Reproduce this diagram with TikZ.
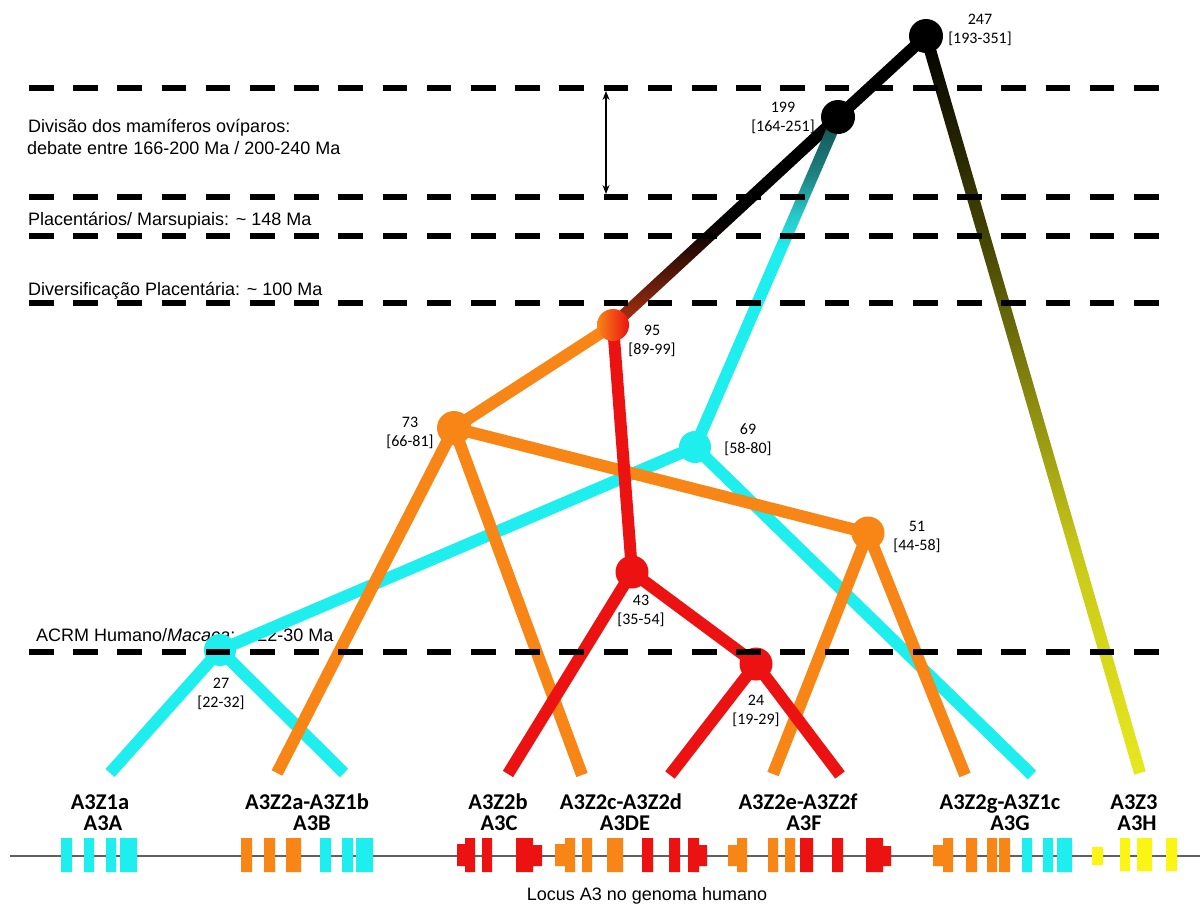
\documentclass[tikz,border=0pt]{standalone}
\usepackage{fontspec}
\setmainfont{Liberation Sans}
\newfontfamily\calfont{Carlito}
\usetikzlibrary{calc,arrows.meta}
\pgfdeclarelayer{bg}
\pgfdeclarelayer{fg}
\pgfsetlayers{bg,main,fg}

\definecolor{cy}{RGB}{30,238,238}
\definecolor{orA}{RGB}{247,134,22}
\definecolor{rdA}{RGB}{236,18,18}
\definecolor{ylA}{RGB}{250,245,20}
\definecolor{gln}{RGB}{95,95,95}
\definecolor{brA}{RGB}{190,60,15}
\definecolor{brB}{RGB}{160,45,15}
\definecolor{brC}{RGB}{120,35,12}
\definecolor{brD}{RGB}{45,12,4}
\definecolor{tlA}{RGB}{40,200,200}
\definecolor{tlB}{RGB}{30,130,130}
\definecolor{tlC}{RGB}{20,75,75}
\definecolor{olA}{RGB}{232,232,30}
\definecolor{olB}{RGB}{200,200,25}
\definecolor{olC}{RGB}{140,140,15}
\definecolor{olD}{RGB}{75,75,5}
\definecolor{olE}{RGB}{25,25,0}

\pgfdeclareverticalshading{shBrown}{100bp}{color(0bp)=(brA); color(25bp)=(brA); color(28bp)=(brB); color(33bp)=(brC); color(43bp)=(brD); color(50bp)=(black); color(100bp)=(black)}
\pgfdeclareverticalshading{shTeal}{100bp}{color(0bp)=(cy); color(55bp)=(cy); color(60bp)=(tlA); color(66bp)=(tlB); color(75bp)=(tlC); color(100bp)=(tlC)}
\pgfdeclareverticalshading{shOlive}{100bp}{color(0bp)=(olA); color(25bp)=(olA); color(40bp)=(olB); color(50bp)=(olC); color(60bp)=(olD); color(70bp)=(olE); color(75bp)=(black); color(100bp)=(black)}

\begin{document}
\begin{tikzpicture}[x=1pt,y=-1pt,
  br/.style={line width=12pt, line cap=butt},
  cyb/.style={br, draw=cy},
  orb/.style={br, draw=orA},
  rdb/.style={br, draw=rdA},
  tn/.style={circle, inner sep=0pt, minimum size=#1},
  dl/.style={line width=6.5pt, dash pattern=on 24.5pt off 19.7pt},
  nl/.style={font=\calfont\fontsize{16}{19}\selectfont, align=center, inner sep=0pt},
  gl/.style={font=\calfont\bfseries\fontsize{22.5}{22}\selectfont, anchor=base, inner sep=0pt},
  lt/.style={font=\fontsize{18}{22}\selectfont, anchor=base west, inner sep=0pt},
  gb/.style={}
]
\useasboundingbox (0,0) rectangle (1200,905);

% tree nodes
\node[tn=34pt, fill=black] (n247) at (926,36) {};
\node[tn=34pt, fill=black] (n199) at (838,117) {};
\node[tn=32pt, left color=orA, right color=rdA] (n95) at (613,325) {};
\node[tn=34pt, fill=orA] (n73) at (454,428) {};
\node[tn=32pt, fill=cy] (n69) at (695,447) {};
\node[tn=33pt, fill=orA] (n51) at (868,533) {};
\node[tn=33pt, fill=rdA] (n43) at (632,572) {};
\node[tn=33pt, fill=rdA] (n24) at (756,664) {};
\node[tn=32pt, fill=cy] (n27) at (220,650) {};

% leaf ends
\coordinate (l1) at (110,773);
\coordinate (l2) at (344,773);
\coordinate (l3) at (277,773);
\coordinate (l4) at (508,774);
\coordinate (l5) at (582,775);
\coordinate (l6) at (670,775);
\coordinate (l7) at (773,774);
\coordinate (l8) at (840,775);
\coordinate (l9) at (965,775);
\coordinate (l10) at (1032,775);
\coordinate (l11) at (1140,773);

\begin{pgfonlayer}{bg}
\fill[white] (0,0) rectangle (1200,905);
% era texts
\node[lt] (tx1) at (28,132.7) {Divisão dos mamíferos ovíparos:};
\node[lt] (tx2) at (27,154) {debate entre 166-200 Ma / 200-240 Ma};
\node[lt] (tx3) at (28,225) {Placentários/ Marsupiais: \textasciitilde{} 148 Ma};
\node[lt] (tx4) at (28,295) {Diversificação Placentária: \textasciitilde{} 100 Ma};
\node[lt] (tx5) at (36,641.7) {ACRM Humano/\textit{Macaca}: \textasciitilde{} 22-30 Ma};

% gradient branches
\shade[shading=shOlive] ($(n247.center)!6pt!90:(l11)$) -- ($(n247.center)!6pt!-90:(l11)$) -- ($(l11)!6pt!90:(n247.center)$) -- ($(l11)!6pt!-90:(n247.center)$) -- cycle;
\shade[shading=shBrown] ($(n199.center)!6pt!90:(n95.center)$) -- ($(n199.center)!6pt!-90:(n95.center)$) -- ($(n95.center)!6pt!90:(n199.center)$) -- ($(n95.center)!6pt!-90:(n199.center)$) -- cycle;
\shade[shading=shTeal] ($(n199.center)!6pt!90:(n69.center)$) -- ($(n199.center)!6pt!-90:(n69.center)$) -- ($(n69.center)!6pt!90:(n199.center)$) -- ($(n69.center)!6pt!-90:(n199.center)$) -- cycle;
\draw[br, draw=black] (n247.center) -- (n199.center);

% cyan branches
\draw[cyb] (n69.center) -- (n27.center);
\draw[cyb] (n69.center) -- (l10);
\draw[cyb] (n27.center) -- (l1);
\draw[cyb] (n27.center) -- (l2);
% orange branches
\draw[orb] (n95.center) -- (n73.center);
\draw[orb] (n73.center) -- (n51.center);
\draw[orb] (n73.center) -- (l3);
\draw[orb] (n73.center) -- (l5);
\draw[orb] (n51.center) -- (l7);
\draw[orb] (n51.center) -- (l9);
% red branches
\draw[rdb] (n95.center) -- (n43.center);
\draw[rdb] (n43.center) -- (l4);
\draw[rdb] (n43.center) -- (n24.center);
\draw[rdb] (n24.center) -- (l6);
\draw[rdb] (n24.center) -- (l8);
\end{pgfonlayer}

% node labels
\node[nl] (t247) at (980,29.5) {247\\{[193-351]}};
\node[nl] (t199) at (783,117.5) {199\\{[164-251]}};
\node[nl] (t95) at (652,341) {95\\{[89-99]}};
\node[nl] (t73) at (410,433) {73\\{[66-81]}};
\node[nl] (t69) at (748,440) {69\\{[58-80]}};
\node[nl] (t51) at (917,537) {51\\{[44-58]}};
\node[nl] (t43) at (641,611) {43\\{[35-54]}};
\node[nl] (t24) at (756,711) {24\\{[19-29]}};
\node[nl] (t27) at (221,694) {27\\{[22-32]}};

% arrow
\coordinate (aT) at (606,91);
\coordinate (aB) at (606,194);
\draw[line width=1.3pt, {Stealth[length=9pt,width=7pt]}-{Stealth[length=9pt,width=7pt]}] (aT) -- (aB);

% dashed era lines
\begin{pgfonlayer}{fg}
\draw[dl] (29,88) -- (1160,88);
\draw[dl] (29,197) -- (1160,197);
\draw[dl] (29,236) -- (1160,236);
\draw[dl] (29,303) -- (1160,303);
\draw[dl] (29,652) -- (1160,652);
\end{pgfonlayer}

% gene labels
\node[gl] (g1a) at (100,809) {A3Z1a};
\node[gl] (g1b) at (103,830) {A3A};
\node[gl] (g2a) at (307,809) {A3Z2a-A3Z1b};
\node[gl] (g2b) at (312,830) {A3B};
\node[gl] (g3a) at (498,809) {A3Z2b};
\node[gl] (g3b) at (499,830) {A3C};
\node[gl] (g4a) at (621,809) {A3Z2c-A3Z2d};
\node[gl] (g4b) at (625,830) {A3DE};
\node[gl] (g5a) at (798,809) {A3Z2e-A3Z2f};
\node[gl] (g5b) at (804,830) {A3F};
\node[gl] (g6a) at (1000,809) {A3Z2g-A3Z1c};
\node[gl] (g6b) at (1010,830) {A3G};
\node[gl] (g7a) at (1134,809) {A3Z3};
\node[gl] (g7b) at (1137,830) {A3H};

% genome line
\draw[gln, line width=1.5pt] (10,856) -- (1200,856);
% exons
\fill[cy] (61,838) rectangle (72,872) (84,838) rectangle (94,872) (106,838) rectangle (116,872) (120,838) rectangle (137,872);
\fill[orA] (241,838) rectangle (252,872) (264,838) rectangle (275,872) (286,838) rectangle (301,872);
\fill[cy] (320,838) rectangle (331,872) (342,838) rectangle (353,872) (356,838) rectangle (373,872);
\fill[rdA] (457,844) rectangle (466,866) (465,838) rectangle (475,872) (482,838) rectangle (492,872) (516,838) rectangle (533,872) (532,845) rectangle (542,866);
\fill[orA] (555,844) rectangle (566,866) (565,838) rectangle (575,872) (582,838) rectangle (592,872) (607,838) rectangle (623,872);
\fill[rdA] (642,838) rectangle (653,872) (669,838) rectangle (680,872) (688,838) rectangle (699,872) (698,845) rectangle (707,866);
\fill[orA] (728,845) rectangle (738,866) (737,838) rectangle (747,872) (768,838) rectangle (778,872) (785,838) rectangle (795,872);
\fill[rdA] (800,838) rectangle (813,872) (832,838) rectangle (843,872) (866,838) rectangle (883,872) (882,846) rectangle (891,866);
\fill[orA] (933,845) rectangle (944,866) (943,838) rectangle (953,872) (966,838) rectangle (977,872) (987,838) rectangle (997,872) (999,838) rectangle (1010,872);
\fill[cy] (1022,838) rectangle (1032,872) (1043,838) rectangle (1053,872) (1057,838) rectangle (1072,872);
\fill[ylA] (1092,847) rectangle (1103,865) (1120,838) rectangle (1130,871) (1137,838) rectangle (1152,871) (1166,838) rectangle (1177,871);

\node[lt, anchor=base] (locus) at (647,900) {Locus A3 no genoma humano};
\end{tikzpicture}
\end{document}
